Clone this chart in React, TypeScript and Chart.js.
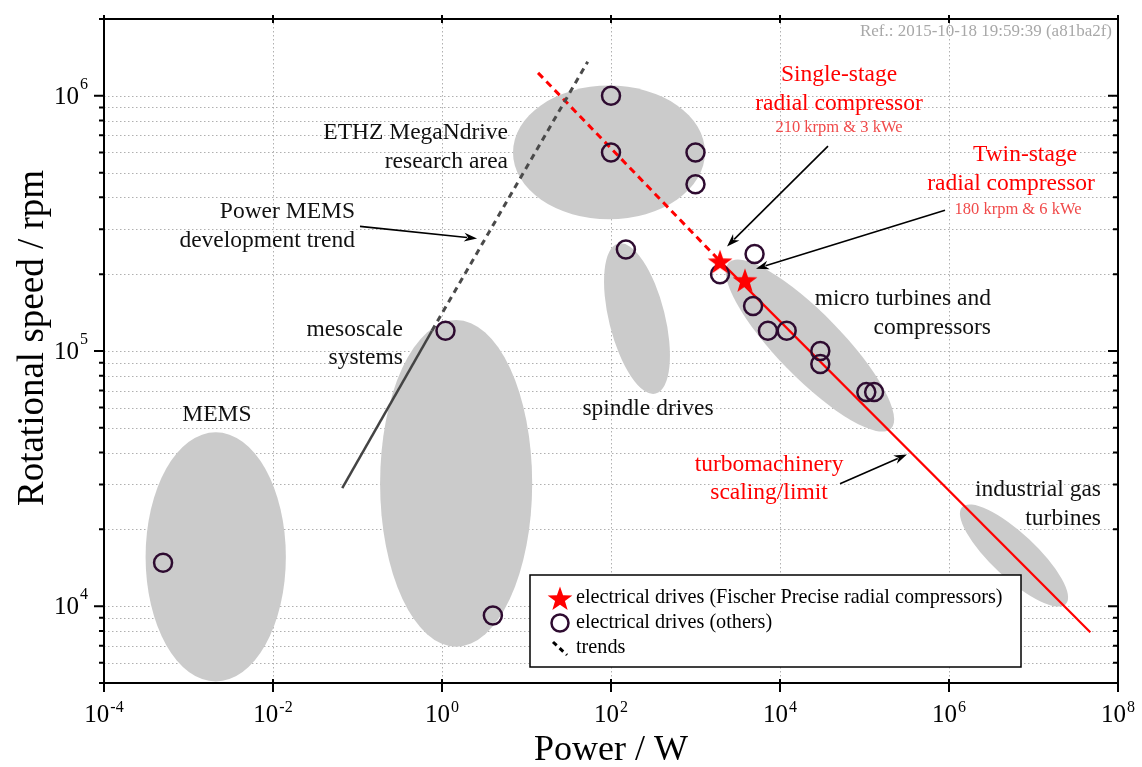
import React, { useEffect, useRef } from "react";
import { Chart, registerables } from "chart.js";
Chart.register(...registerables);

// ---------- axis ranges & ticks ----------
const xRange = [1e-4, 1e8];
const yRange = [5e3, 2e6];
const xTickExponents = [-4, -2, 0, 2, 4, 6, 8];
const yTickExponents = [4, 5, 6];

// ---------- data ----------
const fischerPower = [1950, 3850];
const fischerSpeed = [2.25e5, 1.9e5];

const otherPower = [5e-4, 1.1, 4, 100, 100, 1000, 1000, 150, 1950, 5000, 4800, 7200, 1.2e4, 3e4, 3e4, 1.05e5, 1.3e5];
const otherSpeed = [1.48e4, 1.2e5, 9.2e3, 1e6, 6e5, 6e5, 4.5e5, 2.5e5, 2.0e5, 2.4e5, 1.5e5, 1.2e5, 1.2e5, 1.0e5, 8.9e4, 6.9e4, 6.9e4];

const memsTrendPower = [0.066, 0.76, 53];
const memsTrendSpeed = [2.9e4, 1.2e5, 1.36e6];
const turboTrendPower = [13.7, 1950, 4.7e7];
const turboTrendSpeed = [1.23e6, 2.25e5, 7.9e3];

// shaded regions (centre in data units, half-spans in decades, tilt in degrees)
const regionPower = [2.1e-3, 1.47, 94.7, 203, 2.26e4, 5.88e6];
const regionSpeed = [1.56e4, 3.03e4, 6.0e5, 1.34e5, 1.05e5, 1.58e4];
const regionSpanX = [0.83, 0.9, 1.136, 0.331, 1.373, 0.84];
const regionSpanY = [0.488, 0.64, 0.262, 0.303, 0.126, 0.087];
const regionTilt = [0, 0, 0, -14, 45.7, 43];

// arrows (data units)
const arrowFromPower = [0.107, 3.7e4, 8.97e5, 5.13e4];
const arrowFromSpeed = [3.08e5, 6.35e5, 3.56e5, 3.02e4];
const arrowToPower = [2.6, 2360, 5200, 3.18e5];
const arrowToSpeed = [2.76e5, 2.57e5, 2.1e5, 3.93e4];

const RED = "#ff0000";
const PINK = "#f04a4a";
const INK = "#111111";
const SERIF = '"Liberation Serif", "Times New Roman", serif';
const T = 23.5;

// annotation text: [text, log10(power), log10(speed), align, color, size]
const annotationText: [string, number, number, CanvasTextAlign, string, number][] = [
  ["Single-stage", 4.698, 6.083, "center", RED, T],
  ["radial compressor", 4.698, 5.969, "center", RED, T],
  ["210 krpm & 3 kWe", 4.698, 5.874, "center", PINK, 16.5],
  ["Twin-stage", 6.899, 5.768, "center", RED, T],
  ["radial compressor", 6.734, 5.654, "center", RED, T],
  ["180 krpm & 6 kWe", 6.817, 5.555, "center", PINK, 16.5],
  ["ETHZ MegaNdrive", 0.781, 5.854, "right", INK, T],
  ["research area", 0.781, 5.74, "right", INK, T],
  ["Power MEMS", -1.03, 5.547, "right", INK, T],
  ["development trend", -1.03, 5.433, "right", INK, T],
  ["mesoscale", -0.462, 5.083, "right", INK, T],
  ["systems", -0.462, 4.972, "right", INK, T],
  ["MEMS", -2.663, 4.748, "center", INK, T],
  ["spindle drives", 2.438, 4.772, "center", INK, T],
  ["micro turbines and", 6.497, 5.205, "right", INK, T],
  ["compressors", 6.497, 5.091, "right", INK, T],
  ["industrial gas", 7.799, 4.457, "right", INK, T],
  ["turbines", 7.799, 4.343, "right", INK, T],
  ["turbomachinery", 3.87, 4.555, "center", RED, T],
  ["scaling/limit", 3.87, 4.445, "center", RED, T],
];

const legendLabels = [
  "electrical drives (Fischer Precise radial compressors)",
  "electrical drives (others)",
  "trends",
];

const CIRCLE_COLOR = "#2e0b30";

function makeStar(r: number, color: string) {
  const s = Math.ceil(r * 2 + 2);
  const c = document.createElement("canvas");
  c.width = s;
  c.height = s;
  const g = c.getContext("2d")!;
  g.fillStyle = color;
  g.beginPath();
  for (let i = 0; i < 10; i++) {
    const rad = i % 2 === 0 ? r : r * 0.4;
    const ang = -Math.PI / 2 + (i * Math.PI) / 5;
    const px = s / 2 + rad * Math.cos(ang);
    const py = s / 2 + 1.5 + rad * Math.sin(ang);
    if (i === 0) g.moveTo(px, py);
    else g.lineTo(px, py);
  }
  g.closePath();
  g.fill();
  return c;
}

function drawArrow(ctx: CanvasRenderingContext2D, x1: number, y1: number, x2: number, y2: number) {
  const ang = Math.atan2(y2 - y1, x2 - x1);
  const len = 13;
  const hw = 4.5;
  const bx = x2 - len * Math.cos(ang);
  const by = y2 - len * Math.sin(ang);
  ctx.strokeStyle = "#000";
  ctx.lineWidth = 1.6;
  ctx.beginPath();
  ctx.moveTo(x1, y1);
  ctx.lineTo(bx + 3 * Math.cos(ang), by + 3 * Math.sin(ang));
  ctx.stroke();
  ctx.fillStyle = "#000";
  ctx.beginPath();
  ctx.moveTo(x2, y2);
  ctx.lineTo(bx - hw * Math.sin(ang), by + hw * Math.cos(ang));
  ctx.lineTo(bx + 4 * Math.cos(ang), by + 4 * Math.sin(ang));
  ctx.lineTo(bx + hw * Math.sin(ang), by - hw * Math.cos(ang));
  ctx.closePath();
  ctx.fill();
}

const decor = {
  id: "decor",
  beforeDatasetsDraw(chart: any) {
    const { ctx, chartArea: a } = chart;
    const xs = chart.scales.x;
    const ys = chart.scales.y;
    ctx.save();
    // grid
    ctx.strokeStyle = "#b0b0b0";
    ctx.lineWidth = 1;
    ctx.setLineDash([1.5, 2.5]);
    for (const e of xTickExponents) {
      const px = Math.round(xs.getPixelForValue(Math.pow(10, e))) + 0.5;
      if (px <= a.left + 2 || px >= a.right - 2) continue;
      ctx.beginPath();
      ctx.moveTo(px, a.top);
      ctx.lineTo(px, a.bottom);
      ctx.stroke();
    }
    for (let e = 3; e <= 6; e++) {
      for (let m = 1; m <= 9; m++) {
        const v = m * Math.pow(10, e);
        if (v <= yRange[0] * 1.01 || v >= yRange[1] * 0.99) continue;
        const py = Math.round(ys.getPixelForValue(v)) + 0.5;
        ctx.beginPath();
        ctx.moveTo(a.left, py);
        ctx.lineTo(a.right, py);
        ctx.stroke();
      }
    }
    ctx.setLineDash([]);
    // regions
    ctx.fillStyle = "#cbcbcb";
    for (let i = 0; i < regionPower.length; i++) {
      const cx = xs.getPixelForValue(regionPower[i]);
      const cy = ys.getPixelForValue(regionSpeed[i]);
      const rx = xs.getPixelForValue(regionPower[i] * Math.pow(10, regionSpanX[i])) - cx;
      const ry = cy - ys.getPixelForValue(regionSpeed[i] * Math.pow(10, regionSpanY[i]));
      ctx.beginPath();
      ctx.ellipse(cx, cy, rx, ry, (regionTilt[i] * Math.PI) / 180, 0, Math.PI * 2);
      ctx.fill();
    }
    ctx.restore();
  },
  afterDatasetsDraw(chart: any) {
    const { ctx, chartArea: a } = chart;
    const xs = chart.scales.x;
    const ys = chart.scales.y;
    ctx.save();
    // frame
    ctx.strokeStyle = "#000";
    ctx.lineWidth = 2;
    ctx.strokeRect(a.left, a.top, a.right - a.left, a.bottom - a.top);
    // y ticks
    for (let e = 3; e <= 6; e++) {
      for (let m = 1; m <= 9; m++) {
        const v = m * Math.pow(10, e);
        if (v < yRange[0] * 0.99 || v > yRange[1] * 1.01) continue;
        const py = ys.getPixelForValue(v);
        const L = m === 1 ? 10 : 5;
        ctx.beginPath();
        ctx.moveTo(a.left - L, py);
        ctx.lineTo(a.left, py);
        ctx.moveTo(a.right, py);
        ctx.lineTo(a.right - L, py);
        ctx.stroke();
      }
    }
    // x ticks
    for (const e of xTickExponents) {
      const px = xs.getPixelForValue(Math.pow(10, e));
      ctx.beginPath();
      ctx.moveTo(px, a.bottom + 9);
      ctx.lineTo(px, a.bottom - 4);
      ctx.moveTo(px, a.top - 4);
      ctx.lineTo(px, a.top + 4);
      ctx.stroke();
    }
    // tick labels
    ctx.fillStyle = "#000";
    ctx.textBaseline = "alphabetic";
    for (const e of yTickExponents) {
      const py = ys.getPixelForValue(Math.pow(10, e));
      ctx.font = `16px ${SERIF}`;
      ctx.textAlign = "right";
      const exp = String(e);
      const ew = ctx.measureText(exp).width;
      const right = a.left - 16;
      ctx.fillText(exp, right, py - 7);
      ctx.font = `25px ${SERIF}`;
      ctx.fillText("10", right - ew - 1, py + 8);
    }
    for (const e of xTickExponents) {
      const px = xs.getPixelForValue(Math.pow(10, e));
      ctx.font = `25px ${SERIF}`;
      const bw = ctx.measureText("10").width;
      ctx.font = `16px ${SERIF}`;
      const exp = String(e);
      const ew = ctx.measureText(exp).width;
      const start = px - (bw + ew + 1) / 2;
      ctx.textAlign = "left";
      ctx.font = `25px ${SERIF}`;
      ctx.fillText("10", start, a.bottom + 39);
      ctx.font = `16px ${SERIF}`;
      ctx.fillText(exp, start + bw + 1, a.bottom + 29);
    }
    // axis titles
    ctx.font = `36px ${SERIF}`;
    ctx.textAlign = "center";
    ctx.fillText("Power / W", (a.left + a.right) / 2, a.bottom + 77);
    ctx.save();
    ctx.translate(43, 338);
    ctx.rotate(-Math.PI / 2);
    ctx.font = `37px ${SERIF}`;
    ctx.fillText("Rotational speed / rpm", 0, 0);
    ctx.restore();
    // reference stamp
    ctx.font = `17px ${SERIF}`;
    ctx.fillStyle = "#a8a8a8";
    ctx.textAlign = "right";
    ctx.fillText("Ref.: 2015-10-18 19:59:39 (a81ba2f)", a.right - 6, a.top + 17);
    // arrows
    for (let i = 0; i < arrowFromPower.length; i++) {
      drawArrow(
        ctx,
        xs.getPixelForValue(arrowFromPower[i]),
        ys.getPixelForValue(arrowFromSpeed[i]),
        xs.getPixelForValue(arrowToPower[i]),
        ys.getPixelForValue(arrowToSpeed[i])
      );
    }
    // annotation text
    ctx.textBaseline = "middle";
    for (const [t, lx, ly, al, col, sz] of annotationText) {
      ctx.font = `${sz}px ${SERIF}`;
      ctx.fillStyle = col;
      ctx.textAlign = al;
      ctx.fillText(t, xs.getPixelForValue(Math.pow(10, lx)), ys.getPixelForValue(Math.pow(10, ly)));
    }
    // legend
    const lx0 = 530, ly0 = 575, lw = 491, lh = 92;
    ctx.fillStyle = "#fff";
    ctx.fillRect(lx0, ly0, lw, lh);
    ctx.strokeStyle = "#000";
    ctx.lineWidth = 1.5;
    ctx.strokeRect(lx0, ly0, lw, lh);
    const mx = lx0 + 30;
    const rows = [ly0 + 23, ly0 + 48, ly0 + 73];
    const star = (chart.data.datasets[0] as any).pointStyle as HTMLCanvasElement;
    ctx.drawImage(star, mx - star.width / 2, rows[0] - star.height / 2);
    ctx.strokeStyle = CIRCLE_COLOR;
    ctx.lineWidth = 2.5;
    ctx.beginPath();
    ctx.arc(mx, rows[1], 8.5, 0, Math.PI * 2);
    ctx.stroke();
    ctx.strokeStyle = "#000";
    ctx.lineWidth = 3;
    ctx.setLineDash([5, 4]);
    ctx.beginPath();
    ctx.moveTo(mx - 7, rows[2] - 6);
    ctx.lineTo(mx + 7, rows[2] + 7);
    ctx.stroke();
    ctx.setLineDash([]);
    ctx.fillStyle = "#000";
    ctx.font = `20.2px ${SERIF}`;
    ctx.textAlign = "left";
    ctx.textBaseline = "middle";
    legendLabels.forEach((t, i) => ctx.fillText(t, mx + 16, rows[i]));
    ctx.restore();
  },
};

export default function App() {
  const ref = useRef<HTMLCanvasElement>(null);
  useEffect(() => {
    if (!ref.current) return;
    const starImg = makeStar(13, RED);
    const pts = (xs: number[], ys: number[]) => xs.map((x, i) => ({ x, y: ys[i] }));
    const chart = new Chart(ref.current, {
      type: "scatter",
      data: {
        datasets: [
          {
            label: legendLabels[0],
            data: pts(fischerPower, fischerSpeed),
            pointStyle: starImg as any,
            pointRadius: 13,
          },
          {
            label: legendLabels[1],
            data: pts(otherPower, otherSpeed),
            pointStyle: "circle",
            pointRadius: 9,
            borderWidth: 2.5,
            borderColor: CIRCLE_COLOR,
            backgroundColor: "rgba(0,0,0,0)",
          },
          {
            label: "mems solid",
            data: pts(memsTrendPower.slice(0, 2), memsTrendSpeed.slice(0, 2)),
            showLine: true,
            pointRadius: 0,
            borderColor: "#444444",
            borderWidth: 2.5,
          },
          {
            label: "mems dashed",
            data: pts(memsTrendPower.slice(1), memsTrendSpeed.slice(1)),
            showLine: true,
            pointRadius: 0,
            borderColor: "#4a4a4a",
            borderWidth: 3,
            borderDash: [6, 5],
          },
          {
            label: "turbo dashed",
            data: pts(turboTrendPower.slice(0, 2), turboTrendSpeed.slice(0, 2)),
            showLine: true,
            pointRadius: 0,
            borderColor: RED,
            borderWidth: 3,
            borderDash: [7, 5],
          },
          {
            label: "turbo solid",
            data: pts(turboTrendPower.slice(1), turboTrendSpeed.slice(1)),
            showLine: true,
            pointRadius: 0,
            borderColor: RED,
            borderWidth: 2.2,
          },
        ],
      },
      options: {
        responsive: false,
        animation: false,
        devicePixelRatio: 1,
        layout: { padding: { left: 104, top: 19, right: 24, bottom: 84 } },
        scales: {
          x: { type: "logarithmic", min: xRange[0], max: xRange[1], display: false },
          y: { type: "logarithmic", min: yRange[0], max: yRange[1], display: false },
        },
        plugins: { legend: { display: false }, tooltip: { enabled: false } },
      },
      plugins: [decor as any],
    });
    return () => chart.destroy();
  }, []);
  return (
    <div style={{ position: "absolute", left: 0, top: 0, width: 1142, height: 767, background: "#fff" }}>
      <canvas ref={ref} width={1142} height={767} style={{ width: 1142, height: 767 }} />
    </div>
  );
}
